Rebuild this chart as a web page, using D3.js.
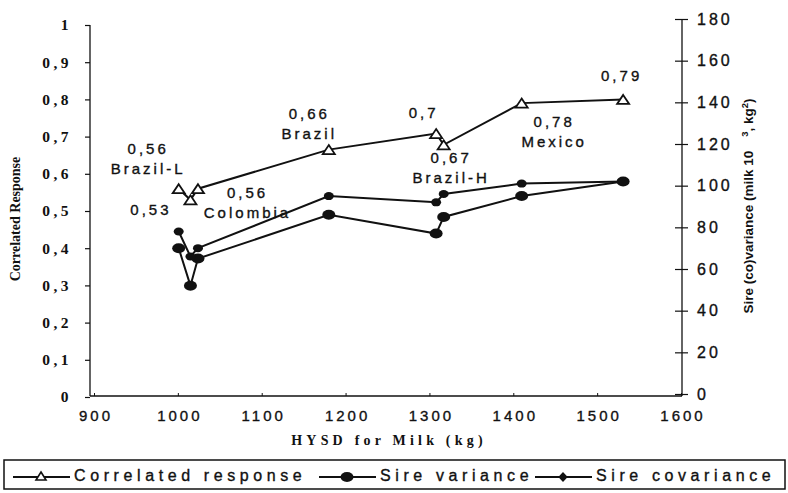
<!DOCTYPE html>
<html><head><meta charset="utf-8">
<script src="https://cdn.jsdelivr.net/npm/d3@7/dist/d3.min.js"></script>
<style>
body{margin:0;background:#fff}
svg{display:block}
text{fill:#111}
</style></head>
<body>
<svg id="chart" width="788" height="493"></svg>
<script>
// ---- data ----
const hysd = [1001, 1015, 1024, 1180, 1308, 1317, 1410, 1531];
const correlatedResponse = [0.56, 0.53, 0.56, 0.665, 0.708, 0.678, 0.79, 0.80];
const sireVariance = [70, 52, 65, 86, 77, 85, 95, 102];
const sireCovariance = [78, 66, 70, 95, 92, 96, 101, 102];
const pointLabels = [
  ["0,56", "Brazil-L"], ["0,53"], ["0,56", "Colombia"], ["0,66", "Brazil"],
  ["0,7"], ["0,67", "Brazil-H"], ["0,78", "Mexico"], ["0,79"]
];
const xTicks = [900, 1000, 1100, 1200, 1300, 1400, 1500, 1600];
const leftTicks = [0, 0.1, 0.2, 0.3, 0.4, 0.5, 0.6, 0.7, 0.8, 0.9, 1];
const leftTickLabels = ["0", "0,1", "0,2", "0,3", "0,4", "0,5", "0,6", "0,7", "0,8", "0,9", "1"];
const rightTicks = [0, 20, 40, 60, 80, 100, 120, 140, 160, 180];
const seriesNames = ["Correlated response", "Sire variance", "Sire covariance"];

// ---- layout ----
const labelOffsets = [[-32,-40],[-41,10],[48,4],[-21,-36],[-14,-21],[6,13],[31,18],[-3,-24]];
const svg = d3.select("#chart");
const x = d3.scaleLinear().domain([900, 1600]).range([94, 681]);
const yL = d3.scaleLinear().domain([0, 1]).range([397, 25]);
const yR = d3.scaleLinear().domain([0, 180]).range([394, 19]);
const ink = "#111";
const thicken = sel => sel.attr("stroke", ink).attr("stroke-width", 0.35);

// left axis
const gL = svg.append("g").attr("transform", "translate(90,0)")
  .call(d3.axisLeft(yL).tickValues(leftTicks).tickSize(5).tickPadding(13)
    .tickFormat((d, i) => leftTickLabels[i]));
gL.select(".domain").attr("stroke", ink).attr("stroke-width", 1.3).attr("d", `M0,${yL(1)}V396`);
gL.selectAll(".tick line").attr("stroke", ink).attr("stroke-width", 1.2);
gL.selectAll(".tick text").attr("font-family", "Liberation Serif").attr("font-weight", "bold")
  .attr("font-size", 15.5).attr("letter-spacing", "3.5px").attr("fill", ink);

// right axis
const gR = svg.append("g").attr("transform", "translate(682,0)")
  .call(d3.axisRight(yR).tickValues(rightTicks).tickSize(6).tickPadding(9).tickFormat(d3.format("d")));
gR.select(".domain").attr("stroke", ink).attr("stroke-width", 1.3).attr("d", `M0,${yR(180)}V396`);
gR.selectAll(".tick line").attr("stroke", ink).attr("stroke-width", 1.2).attr("x1", -7);
gR.selectAll(".tick text").attr("font-family", "Liberation Sans")
  .attr("font-size", 16).attr("letter-spacing", "3px").attr("fill", ink).call(thicken);

// bottom axis
const gB = svg.append("g").attr("transform", "translate(0,396)")
  .call(d3.axisBottom(x).tickValues(xTicks).tickSize(-3).tickPadding(14).tickFormat(d3.format("d")));
gB.select(".domain").attr("stroke", ink).attr("stroke-width", 1.5).attr("d", "M90,0H682");
gB.selectAll(".tick line").attr("stroke", ink).attr("stroke-width", 1);
gB.selectAll(".tick text").attr("font-family", "Liberation Sans")
  .attr("font-size", 15).attr("letter-spacing", "3px").attr("fill", ink).attr("dx", "1.5").call(thicken);

// axis titles
svg.append("text").attr("x", 389).attr("y", 445).attr("text-anchor", "middle")
  .attr("font-family", "Liberation Serif").attr("font-weight", "bold").attr("font-size", 14)
  .attr("letter-spacing", "4.2px").text("HYSD for Milk (kg)");
svg.append("text").attr("transform", "translate(20,219) rotate(-90)").attr("text-anchor", "middle")
  .attr("font-family", "Liberation Serif").attr("font-weight", "bold").attr("font-size", 14)
  .text("Correlated Response");
const rt = svg.append("text").attr("transform", "translate(753,206) rotate(-90)").attr("text-anchor", "middle")
  .attr("font-family", "Liberation Sans").attr("font-weight", "bold").attr("font-size", 13.5);
rt.append("tspan").text("Sire (co)variance (milk 10");
rt.append("tspan").attr("font-size", 9.5).attr("dx", 14).attr("dy", -5).text("3");
rt.append("tspan").attr("dy", 5).text(", kg");
rt.append("tspan").attr("font-size", 9.5).attr("dy", -5).text("2");
rt.append("tspan").attr("dy", 5).text(")");

// lines
const pts = (ys, yscale) => hysd.map((h, i) => [x(h), yscale(ys[i])]);
const line = d3.line();
const crPts = pts(correlatedResponse, yL), varPts = pts(sireVariance, yR), covPts = pts(sireCovariance, yR);
[crPts, varPts, covPts].forEach(p => svg.append("path").attr("d", line(p))
  .attr("fill", "none").attr("stroke", ink).attr("stroke-width", 2));

// markers
const tri = (cx, cy, w, h) => `M${cx},${cy - h / 2}L${cx + w / 2},${cy + h / 2}L${cx - w / 2},${cy + h / 2}Z`;
svg.append("g").selectAll("ellipse").data(varPts).join("ellipse")
  .attr("cx", d => d[0]).attr("cy", d => d[1]).attr("rx", 6.5).attr("ry", 5).attr("fill", ink);
svg.append("g").selectAll("ellipse").data(covPts).join("ellipse")
  .attr("cx", d => d[0]).attr("cy", d => d[1]).attr("rx", 5).attr("ry", 4).attr("fill", ink);
svg.append("g").selectAll("path").data(crPts).join("path")
  .attr("d", d => tri(d[0], d[1], 12, 9)).attr("fill", "#fff").attr("stroke", ink).attr("stroke-width", 1.8);

// point labels
pointLabels.forEach((lines, i) => {
  const [px, py] = crPts[i];
  const [dx, dy] = labelOffsets[i];
  lines.forEach((t, j) => svg.append("text").attr("x", px + dx + 1.5).attr("y", py + dy + j * 20 + 5.5)
    .attr("text-anchor", "middle").attr("font-family", "Liberation Sans").attr("font-size", 15)
    .attr("letter-spacing", "3px").call(thicken).text(t));
});

// legend
svg.append("rect").attr("x", 4).attr("y", 460).attr("width", 781).attr("height", 29)
  .attr("fill", "#fff").attr("stroke", ink).attr("stroke-width", 1.5);
const legendX = [13, 319, 535];
const ly = 477;
seriesNames.forEach((name, i) => {
  const lx = legendX[i];
  svg.append("line").attr("x1", lx).attr("x2", lx + 57).attr("y1", ly).attr("y2", ly)
    .attr("stroke", ink).attr("stroke-width", 2);
  if (i === 0) svg.append("path").attr("d", tri(lx + 28, ly - 1, 10, 8)).attr("fill", "#fff").attr("stroke", ink).attr("stroke-width", 1.6);
  else if (i === 1) svg.append("ellipse").attr("cx", lx + 28).attr("cy", ly).attr("rx", 6.5).attr("ry", 5).attr("fill", ink);
  else svg.append("path").attr("d", d3.symbol(d3.symbolDiamond, 45)()).attr("transform", `translate(${lx + 28},${ly}) scale(1.3,0.8)`).attr("fill", ink);
  svg.append("text").attr("x", lx + 61).attr("y", ly + 4).attr("font-family", "Liberation Sans")
    .attr("font-size", 16).attr("letter-spacing", "4.6px").call(thicken).text(name);
});
</script>
</body></html>
